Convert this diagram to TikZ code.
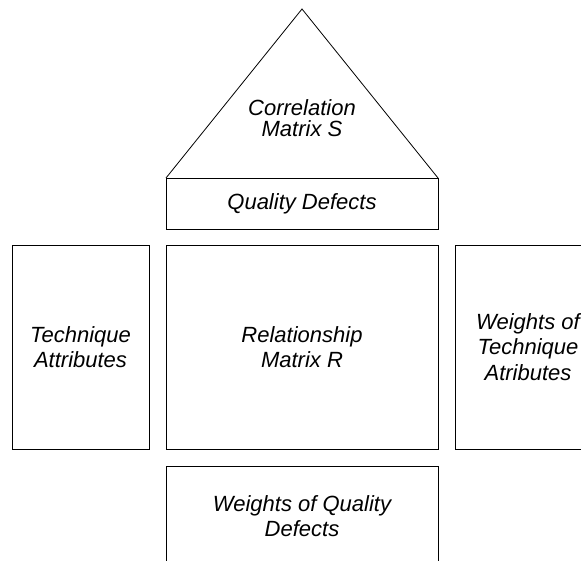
\documentclass[tikz,border=0pt]{standalone}
\usepackage{fontspec}
\setmainfont{Liberation Sans}
\usetikzlibrary{positioning}
\tikzset{
  block/.style={draw, rectangle, inner sep=0pt, outer sep=0pt, align=center,
    font=\itshape\fontsize{22}{25.5}\selectfont},
  label text/.style={align=center, inner sep=0pt, font=\itshape\fontsize{22}{21.5}\selectfont},
}

\begin{document}
\begin{tikzpicture}[x=1pt, y=-1pt, line width=0.8pt]
            \useasboundingbox (0,0) rectangle (581,561);
            % Roof and ceiling
            \node[block, minimum width=272pt, minimum height=51pt] (defects) at (302,203.5) {Quality Defects};
            \coordinate (apex) at (302,9);
            \draw (defects.north west) -- (apex) -- (defects.north east);
            \node[label text] (corr) at (302,118) {Correlation\\Matrix S};
            
            % Middle row
            \node[block, minimum width=137pt, minimum height=204pt] (tech) at (80.5,347) {Technique\\Attributes};
            \node[block, minimum width=272pt, minimum height=204pt] (rel) at (302,347) {Relationship\\Matrix R};
            \node[block, minimum width=146pt, minimum height=204pt] (wtech) at (528,347) {Weights of\\Technique\\Atributes};
            
            % Basement
            \node[block, minimum width=272pt, minimum height=100pt] (wdef) at (302,516) {Weights of Quality\\Defects};
        \end{tikzpicture}
\end{document}
